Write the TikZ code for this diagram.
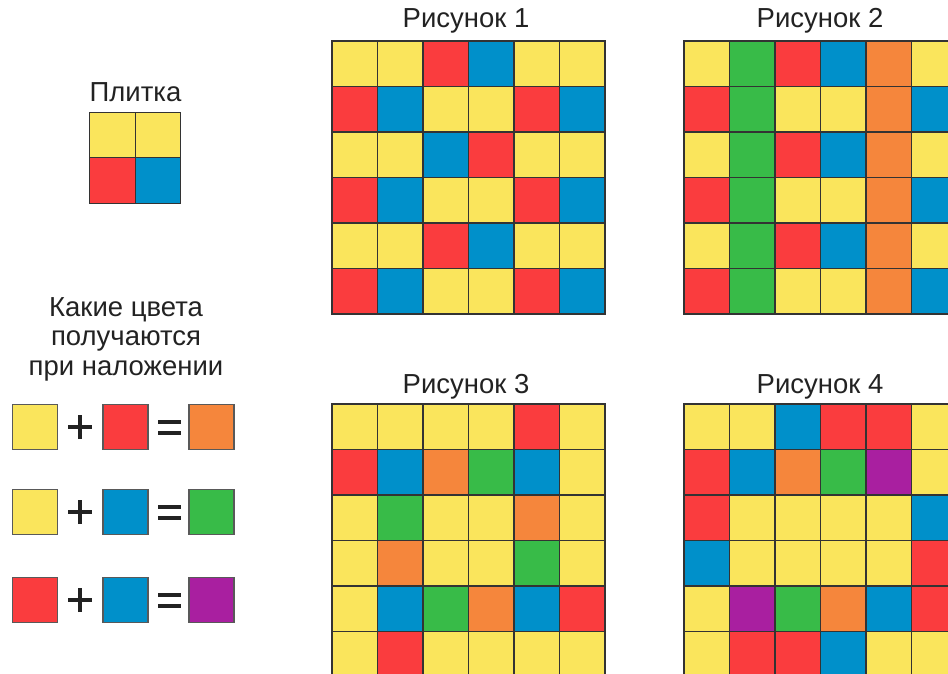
\documentclass[tikz,border=0pt]{standalone}
\usepackage{fontspec}
\setmainfont{Liberation Sans}
\definecolor{cY}{HTML}{FAE55C}
\definecolor{cR}{HTML}{FA3C3E}
\definecolor{cB}{HTML}{0090CA}
\definecolor{cO}{HTML}{F5863C}
\definecolor{cG}{HTML}{38BB48}
\definecolor{cP}{HTML}{A91FA0}
\definecolor{ink}{HTML}{222222}
\begin{document}
\begin{tikzpicture}[x=1pt,y=-1pt,
  cell/.style={draw=black!80,line width=1.1pt,minimum size=45.5pt,inner sep=0pt,outer sep=0pt},
  swatch/.style={draw=black!65,line width=1.1pt,minimum size=45pt,inner sep=0pt},
  title/.style={font=\fontsize{27.5}{30}\selectfont,text=ink,anchor=base,inner sep=0pt},
  op/.style={line width=4pt,draw=ink}]
\useasboundingbox (0,0) rectangle (948,674);
\clip (0,0) rectangle (948,674);
% grids
\foreach \gx/\gy/\gn/\rows in {
  332/41/a/{{Y,Y,R,B,Y,Y},{R,B,Y,Y,R,B},{Y,Y,B,R,Y,Y},{R,B,Y,Y,R,B},{Y,Y,R,B,Y,Y},{R,B,Y,Y,R,B}},
  684/41/b/{{Y,G,R,B,O,Y},{R,G,Y,Y,O,B},{Y,G,R,B,O,Y},{R,G,Y,Y,O,B},{Y,G,R,B,O,Y},{R,G,Y,Y,O,B}},
  332/404/c/{{Y,Y,Y,Y,R,Y},{R,B,O,G,B,Y},{Y,G,Y,Y,O,Y},{Y,O,Y,Y,G,Y},{Y,B,G,O,B,R},{Y,R,Y,Y,Y,Y}},
  684/404/d/{{Y,Y,B,R,R,Y},{R,B,O,G,P,Y},{R,Y,Y,Y,Y,B},{B,Y,Y,Y,Y,R},{Y,P,G,O,B,R},{Y,R,R,B,Y,Y}}}{
  \foreach \row [count=\r from 0] in \rows {
    \foreach \c [count=\k from 0] in \row {
      \node[cell,fill=c\c] (\gn-\r-\k) at ({\gx+\k*45.5+22.75},{\gy+\r*45.5+22.75}) {};
    }
  }
}
\node[title] (t1) at (466,28) {Рисунок 1};
\node[title] (t2) at (820,28) {Рисунок 2};
\node[title] (t3) at (466,393) {Рисунок 3};
\node[title] (t4) at (820,393) {Рисунок 4};
% tile
\node[title] (tp) at (135.5,102) {Плитка};
\node[cell,fill=cY] (p00) at (112.5,135) {};
\node[cell,fill=cY] (p01) at (158,135) {};
\node[cell,fill=cR] (p10) at (112.5,180.5) {};
\node[cell,fill=cB] (p11) at (158,180.5) {};
% legend text
\node[title] (l1) at (126,316) {Какие цвета};
\node[title] (l2) at (126,345) {получаются};
\node[title] (l3) at (126,375) {при наложении};
% equations
\foreach \yy/\a/\b/\c/\n in {427/Y/R/O/1, 512/Y/B/G/2, 600/R/B/P/3}{
  \node[swatch,fill=c\a] (e\n a) at (35,\yy) {};
  \node[swatch,fill=c\b] (e\n b) at (125.5,\yy) {};
  \node[swatch,fill=c\c] (e\n c) at (211.5,\yy) {};
  \coordinate (pl\n) at (80,\yy);
  \coordinate (eq\n) at (169.5,\yy);
  \draw[op] ([xshift=-12pt]pl\n) -- ([xshift=12pt]pl\n);
  \draw[op] ([yshift=-12pt]pl\n) -- ([yshift=12pt]pl\n);
  \draw[op] ([xshift=-11.5pt,yshift=-5.5pt]eq\n) -- ([xshift=11.5pt,yshift=-5.5pt]eq\n);
  \draw[op] ([xshift=-11.5pt,yshift=5.5pt]eq\n) -- ([xshift=11.5pt,yshift=5.5pt]eq\n);
}
\end{tikzpicture}
\end{document}
